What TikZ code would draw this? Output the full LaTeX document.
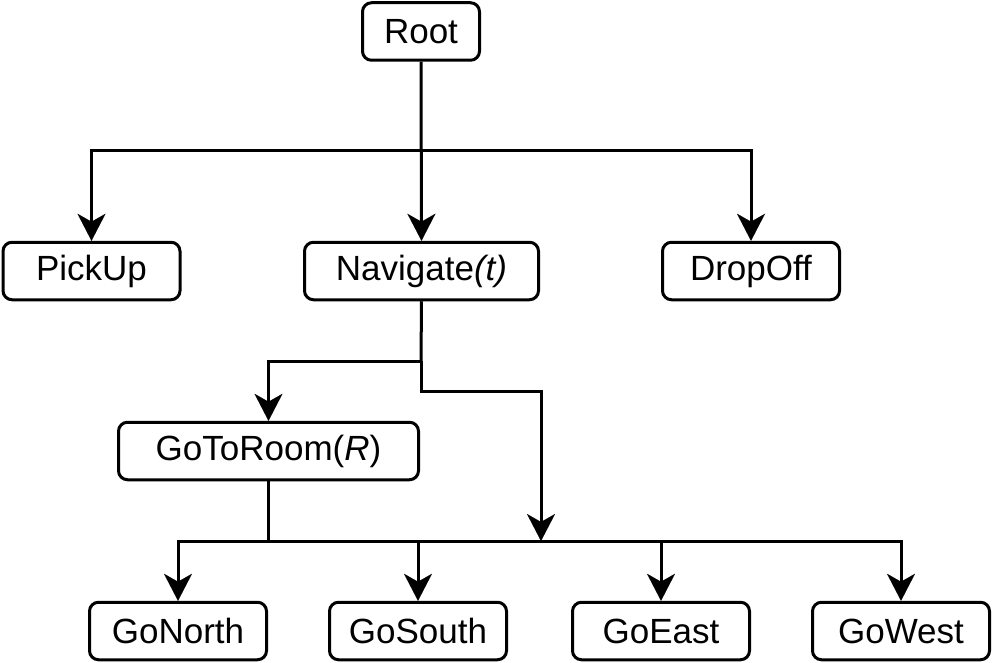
\documentclass[tikz,border=0pt]{standalone}
\usepackage{fontspec}
\setmainfont{Liberation Sans}
\usetikzlibrary{arrows.meta}
\begin{document}
\begin{tikzpicture}[x=1pt,y=-1pt,
  box/.style={draw,rounded corners=9pt,line width=3pt,minimum height=57.5pt,inner sep=0pt,
    font=\fontsize{35}{40}\selectfont},
  conn/.style={line width=3pt,-{Stealth[length=27pt,width=28pt,inset=8pt,line width=0.01pt]}},
  plain/.style={line width=3pt}]
\useasboundingbox (0,0) rectangle (993,663);
\node[box,minimum width=117pt] (root) at (421,31.5) {Root};
\node[box,minimum width=177pt] (pick) at (91.5,271) {PickUp};
\node[box,minimum width=234pt] (nav) at (421.5,271) {Navigate\textit{(t)}};
\node[box,minimum width=177pt] (drop) at (751,271) {DropOff};
\node[box,minimum width=300pt] (room) at (268.5,451) {GoToRoom(\textit{R})};
\node[box,minimum width=177pt] (north) at (178,631) {GoNorth};
\node[box,minimum width=177pt] (south) at (418,631) {GoSouth};
\node[box,minimum width=177pt] (east) at (661,631) {GoEast};
\node[box,minimum width=177pt] (west) at (901,631) {GoWest};
\coordinate (j1) at (421,151);
\coordinate (j2) at (421,361);
\coordinate (j3) at (541,541);
\coordinate (j4) at (268.5,541);
\draw[conn] (root.south) -- (nav.north);
\draw[conn] (j1) -| (pick.north);
\draw[conn] (j1) -| (drop.north);
\draw[plain] (nav.south) -- (j2);
\draw[conn] (j2) -| (room.north);
\draw[conn] (j2) -- (421,391) -| (j3);
\draw[plain] (room.south) -- (j4);
\draw[conn] (j4) -| (north.north);
\draw[conn] (j4) -| (south.north);
\draw[conn] (j4) -| (east.north);
\draw[conn] (j4) -| (west.north);
\end{tikzpicture}
\end{document}
